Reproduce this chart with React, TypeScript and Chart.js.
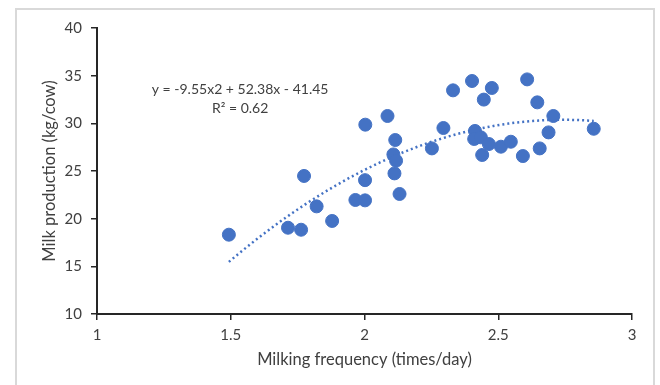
import React, { useEffect, useRef } from "react";
import { Chart, registerables } from "chart.js";

Chart.register(...registerables);

const frequency = [
  1.493, 1.714, 1.763, 1.774, 1.821, 1.879, 1.966, 2.002, 2.002, 2.003,
  2.086, 2.115, 2.108, 2.118, 2.112, 2.131, 2.252, 2.295, 2.331, 2.402,
  2.413, 2.41, 2.435, 2.446, 2.476, 2.44, 2.465, 2.51, 2.547, 2.592,
  2.608, 2.646, 2.655, 2.688, 2.706, 2.857,
];
const production = [
  18.32, 19.05, 18.84, 24.48, 21.29, 19.76, 21.96, 21.92, 24.04, 29.86,
  30.77, 28.25, 26.74, 26.08, 24.75, 22.59, 27.37, 29.51, 33.46, 34.44,
  29.2, 28.36, 28.53, 32.49, 33.71, 26.68, 27.83, 27.55, 28.07, 26.57,
  34.61, 32.2, 27.37, 29.05, 30.77, 29.43,
];

// Polynomial trendline coefficients (as shown on the chart)
const trendA = -9.55;
const trendB = 52.38;
const trendC = -41.45;
const equationText = "y = -9.55x2 + 52.38x - 41.45";
const r2Text = "R² = 0.62";

const xTicks = [1, 1.5, 2, 2.5, 3];
const yTicks = [10, 15, 20, 25, 30, 35, 40];

const FONT = "Lato, 'Open Sans', sans-serif";
const TEXT_COLOR = "#404040";
const BLUE = "#4472C4";

export default function App() {
  const ref = useRef<HTMLCanvasElement | null>(null);

  useEffect(() => {
    if (!ref.current) return;
    const xMin = Math.min(...frequency);
    const xMax = Math.max(...frequency);
    const trend: { x: number; y: number }[] = [];
    const steps = 120;
    for (let i = 0; i <= steps; i++) {
      const x = xMin + ((xMax - xMin) * i) / steps;
      trend.push({ x, y: trendA * x * x + trendB * x + trendC });
    }

    const labelPlugin = {
      id: "eqLabel",
      afterDatasetsDraw(chart: any) {
        const { ctx, scales } = chart;
        const cx = scales.x.getPixelForValue(1.535);
        const cy = scales.y.getPixelForValue(33.53);
        ctx.save();
        ctx.fillStyle = TEXT_COLOR;
        ctx.font = `14px ${FONT}`;
        ctx.textAlign = "center";
        ctx.textBaseline = "middle";
        ctx.fillText(equationText, cx, cy);
        ctx.fillText(r2Text, cx, cy + 19);
        ctx.restore();
      },
    };

    const chart = new Chart(ref.current, {
      type: "scatter",
      data: {
        datasets: [
          {
            label: "Milk production",
            data: frequency.map((x, i) => ({ x, y: production[i] })),
            backgroundColor: BLUE,
            borderColor: BLUE,
            pointRadius: 6.5,
            pointHoverRadius: 6.5,
            order: 1,
          },
          {
            type: "line",
            label: "Trend",
            data: trend,
            borderColor: BLUE,
            borderWidth: 2.5,
            borderDash: [2, 3],
            pointRadius: 0,
            fill: false,
            tension: 0,
            order: 2,
          } as any,
        ],
      },
      options: {
        responsive: false,
        animation: false,
        events: [],
        layout: { padding: { left: 0, top: 28, right: 28, bottom: 0 } },
        plugins: {
          legend: { display: false },
          tooltip: { enabled: false },
        },
        scales: {
          x: {
            type: "linear",
            min: 1,
            max: 3,
            afterBuildTicks: (s: any) => {
              s.ticks = xTicks.map((v) => ({ value: v }));
            },
            afterFit: (s: any) => {
              s.height = 71;
            },
            grid: {
              drawOnChartArea: false,
              drawTicks: true,
              tickLength: 6,
              color: "#262626",
              lineWidth: 1.5,
            },
            border: { color: "#262626", width: 2 },
            ticks: {
              padding: 6,
              color: TEXT_COLOR,
              font: { family: FONT, size: 15 },
              callback: (v: any) => String(v),
            },
            title: {
              display: true,
              text: "Milking frequency (times/day)",
              color: TEXT_COLOR,
              font: { family: FONT, size: 16.5 },
              padding: { top: 0, bottom: 15 },
            },
          },
          y: {
            type: "linear",
            min: 10,
            max: 40,
            afterBuildTicks: (s: any) => {
              s.ticks = yTicks.map((v) => ({ value: v }));
            },
            afterFit: (s: any) => {
              s.width = 97;
            },
            grid: {
              drawOnChartArea: false,
              drawTicks: true,
              tickLength: 6,
              color: "#262626",
              lineWidth: 1.5,
            },
            border: { color: "#262626", width: 2 },
            ticks: {
              padding: 9,
              color: TEXT_COLOR,
              font: { family: FONT, size: 15 },
              callback: (v: any) => String(v),
            },
            title: {
              display: true,
              text: "Milk production (kg/cow)",
              color: TEXT_COLOR,
              font: { family: FONT, size: 16.5 },
              padding: { top: 40, bottom: 0 },
            },
          },
        },
      },
      plugins: [labelPlugin],
    });
    return () => chart.destroy();
  }, []);

  return (
    <div
      style={{
        position: "fixed",
        left: 0,
        top: 0,
        width: 660,
        height: 385,
        overflow: "hidden",
        background: "#fff",
      }}
    >
      <div
        style={{
          position: "absolute",
          left: 15,
          top: 8,
          width: 636,
          height: 420,
          border: "2px solid #d9d9d9",
          borderBottom: "none",
        }}
      />
      <canvas
        ref={ref}
        width={660}
        height={385}
        style={{ position: "absolute", left: 0, top: 0 }}
      />
    </div>
  );
}
